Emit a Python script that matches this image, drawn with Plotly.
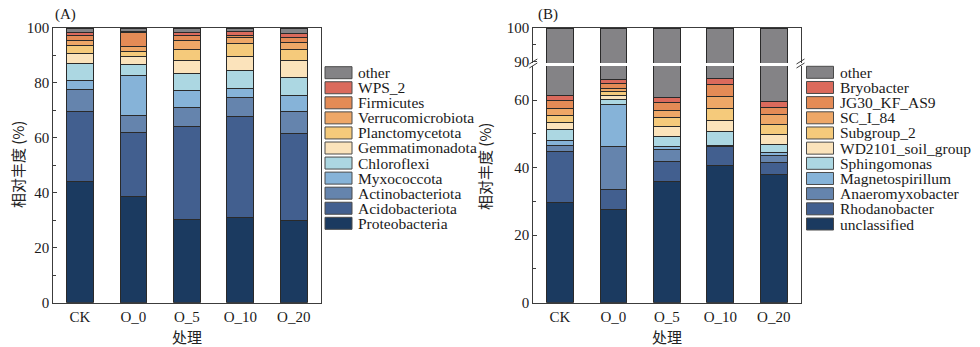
import plotly.graph_objects as go

W, H = 980, 347

treatments = ["CK", "O_0", "O_5", "O_10", "O_20"]

# ---- Panel A: phyla (bottom of stack first) ----
phyla = ["Proteobacteria", "Acidobacteriota", "Actinobacteriota", "Myxococcota",
         "Chloroflexi", "Gemmatimonadota", "Planctomycetota", "Verrucomicrobiota",
         "Firmicutes", "WPS_2", "other"]
proteobacteria = [44.2, 38.7, 30.4, 31.0, 29.8]
acidobacteriota = [25.5, 23.3, 33.6, 36.7, 31.8]
actinobacteriota = [7.9, 6.2, 7.2, 7.1, 8.0]
myxococcota = [3.4, 14.6, 6.1, 3.2, 5.9]
chloroflexi = [5.9, 3.9, 6.0, 6.4, 6.5]
gemmatimonadota = [3.7, 3.0, 4.7, 5.3, 6.3]
planctomycetota = [2.9, 1.9, 4.0, 4.7, 3.8]
verrucomicrobiota = [1.8, 1.8, 3.5, 2.1, 2.8]
firmicutes = [1.9, 4.8, 1.6, 0.6, 1.8]
wps_2 = [1.1, 0.7, 1.4, 1.7, 1.3]
other_a = [1.7, 1.1, 1.5, 1.2, 2.0]
values_a = [proteobacteria, acidobacteriota, actinobacteriota, myxococcota,
            chloroflexi, gemmatimonadota, planctomycetota, verrucomicrobiota,
            firmicutes, wps_2, other_a]

# ---- Panel B: genera (bottom of stack first) ----
genera = ["unclassified", "Rhodanobacter", "Anaeromyxobacter", "Magnetospirillum",
          "Sphingomonas", "WD2101_soil_group", "Subgroup_2", "SC_I_84",
          "JG30_KF_AS9", "Bryobacter", "other"]
unclassified = [29.6, 27.7, 35.9, 40.7, 38.0]
rhodanobacter = [15.3, 5.9, 5.9, 5.5, 3.6]
anaeromyxobacter = [1.7, 12.8, 3.6, 0.2, 2.0]
magnetospirillum = [1.3, 12.2, 1.0, 0.2, 0.8]
sphingomonas = [3.5, 1.7, 2.8, 4.2, 2.6]
wd2101 = [1.9, 1.2, 3.0, 3.3, 2.7]
subgroup_2 = [2.0, 1.0, 2.7, 3.4, 3.0]
sc_i_84 = [2.3, 1.0, 2.0, 3.7, 2.9]
jg30 = [2.3, 1.3, 2.4, 3.5, 2.3]
bryobacter = [1.6, 1.2, 1.6, 1.6, 1.7]
other_b = [38.5, 34.0, 39.1, 33.7, 40.4]
values_b = [unclassified, rhodanobacter, anaeromyxobacter, magnetospirillum,
            sphingomonas, wd2101, subgroup_2, sc_i_84, jg30, bryobacter, other_b]

colors = ["#1b3a60", "#425f8f", "#6584ad", "#86b3d8", "#acd7e2", "#fbe3bb",
          "#f5ca7b", "#eea767", "#e48b56", "#db6a5c", "#848386"]

SERIF = "Liberation Serif"
CJK = "Noto Sans CJK SC"
LINE = "#3c3c3c"


def px(x):
    return x / W


def py(y):
    return 1 - y / H


fig = go.Figure()

for name, vals, col in zip(phyla, values_a, colors):
    fig.add_trace(go.Bar(x=treatments, y=vals, name=name, marker_color=col,
                         marker_line=dict(color="#2a2a2a", width=1), width=0.5,
                         xaxis="x", yaxis="y", showlegend=False))

for axx, axy in [("x2", "y2"), ("x3", "y3")]:
    for name, vals, col in zip(genera, values_b, colors):
        fig.add_trace(go.Bar(x=treatments, y=vals, name=name, marker_color=col,
                             marker_line=dict(color="#2a2a2a", width=1), width=0.5,
                             xaxis=axx, yaxis=axy, showlegend=False))

tickfont = dict(family=SERIF, size=15, color="#1a1a1a")

xA = [px(53.3), px(320.5)]
xB = [px(533.3), px(800.5)]
y_bottom = py(302.7)
y_top = py(28.0)

common_x = dict(type="category", range=[-0.5, 4.5], showline=True, linecolor=LINE,
                linewidth=1, ticks="", tickfont=tickfont, showgrid=False, zeroline=False,
                automargin=False)

fig.update_layout(
    width=W, height=H, autosize=False,
    margin=dict(l=0, r=0, t=0, b=0, pad=0, autoexpand=False),
    paper_bgcolor="white", plot_bgcolor="white",
    barmode="stack", bargap=0.5,
    showlegend=False,
    xaxis=dict(domain=xA, anchor="y", mirror=True, **common_x),
    yaxis=dict(domain=[y_bottom, y_top], anchor="x", range=[0, 100], dtick=20,
               showline=True, mirror=True, linecolor=LINE, linewidth=1,
               ticks="inside", ticklen=4, tickcolor=LINE,
               minor=dict(dtick=10, ticks="inside", ticklen=2.5, tickcolor=LINE),
               tickfont=tickfont, showgrid=False, zeroline=False, automargin=False),
    xaxis2=dict(domain=xB, anchor="y2", **common_x),
    yaxis2=dict(domain=[y_bottom, py(66.0)], anchor="x2", range=[0, 70.1],
                tickvals=[0, 20, 40, 60],
                showline=True, mirror=True, linecolor=LINE, linewidth=1,
                ticks="inside", ticklen=4, tickcolor=LINE,
                minor=dict(tickvals=[10, 30, 50], ticks="inside", ticklen=2.5, tickcolor=LINE),
                tickfont=tickfont, showgrid=False, zeroline=False, automargin=False),
    xaxis3=dict(domain=xB, anchor="y3", side="top", matches="x2", showticklabels=False,
                **{k: v for k, v in common_x.items() if k != "tickfont"}),
    yaxis3=dict(domain=[py(63.0), y_top], anchor="x3", range=[89.6, 100],
                tickvals=[90, 100],
                showline=True, mirror=True, linecolor=LINE, linewidth=1,
                ticks="inside", ticklen=4, tickcolor=LINE,
                minor=dict(tickvals=[95], ticks="inside", ticklen=2.5, tickcolor=LINE),
                tickfont=tickfont, showgrid=False, zeroline=False, automargin=False),
)

annotations = []
shapes = []

# panel labels
annotations.append(dict(text="(A)", x=px(53), y=py(15), xref="paper", yref="paper",
                        xanchor="left", yanchor="middle", showarrow=False,
                        font=dict(family=SERIF, size=15, color="#1a1a1a")))
annotations.append(dict(text="(B)", x=px(536), y=py(15), xref="paper", yref="paper",
                        xanchor="left", yanchor="middle", showarrow=False,
                        font=dict(family=SERIF, size=15, color="#1a1a1a")))

# axis titles
for xc, yc in [(17, 165), (484, 167)]:
    annotations.append(dict(text="相对丰度 (%)", x=px(xc), y=py(yc), xref="paper", yref="paper",
                            xanchor="center", yanchor="middle", textangle=-90, showarrow=False,
                            font=dict(family=CJK, size=15, color="#222222")))
for xc in [187, 667]:
    annotations.append(dict(text="处理", x=px(xc), y=py(336), xref="paper", yref="paper",
                            xanchor="center", yanchor="middle", showarrow=False,
                            font=dict(family=CJK, size=15, color="#222222")))

# custom legends (top entry = top of stack)
def add_legend(names, x_sw, y0, step):
    for i, (name, col) in enumerate(zip(names[::-1], colors[::-1])):
        yc = y0 + i * step
        shapes.append(dict(type="rect", xref="paper", yref="paper",
                           x0=px(x_sw), x1=px(x_sw + 27), y0=py(yc - 6), y1=py(yc + 6),
                           fillcolor=col, line=dict(color="#4a4a4a", width=1)))
        annotations.append(dict(text=name, x=px(x_sw + 31), y=py(yc), xref="paper", yref="paper",
                                xanchor="left", yanchor="middle", showarrow=False,
                                font=dict(family=SERIF, size=15.5, color="#1a1a1a")))


add_legend(phyla, 325, 72.7, 15.06)
add_legend(genera, 806.5, 72.3, 15.17)

# axis-break marks
for xb in [533.3, 800.5]:
    for dy in [0, 4]:
        shapes.append(dict(type="line", xref="paper", yref="paper",
                           x0=px(xb - 4), y0=py(64 + dy), x1=px(xb + 4), y1=py(59 + dy),
                           line=dict(color=LINE, width=1)))

fig.update_layout(annotations=annotations, shapes=shapes)

fig.write_html("out.html")
